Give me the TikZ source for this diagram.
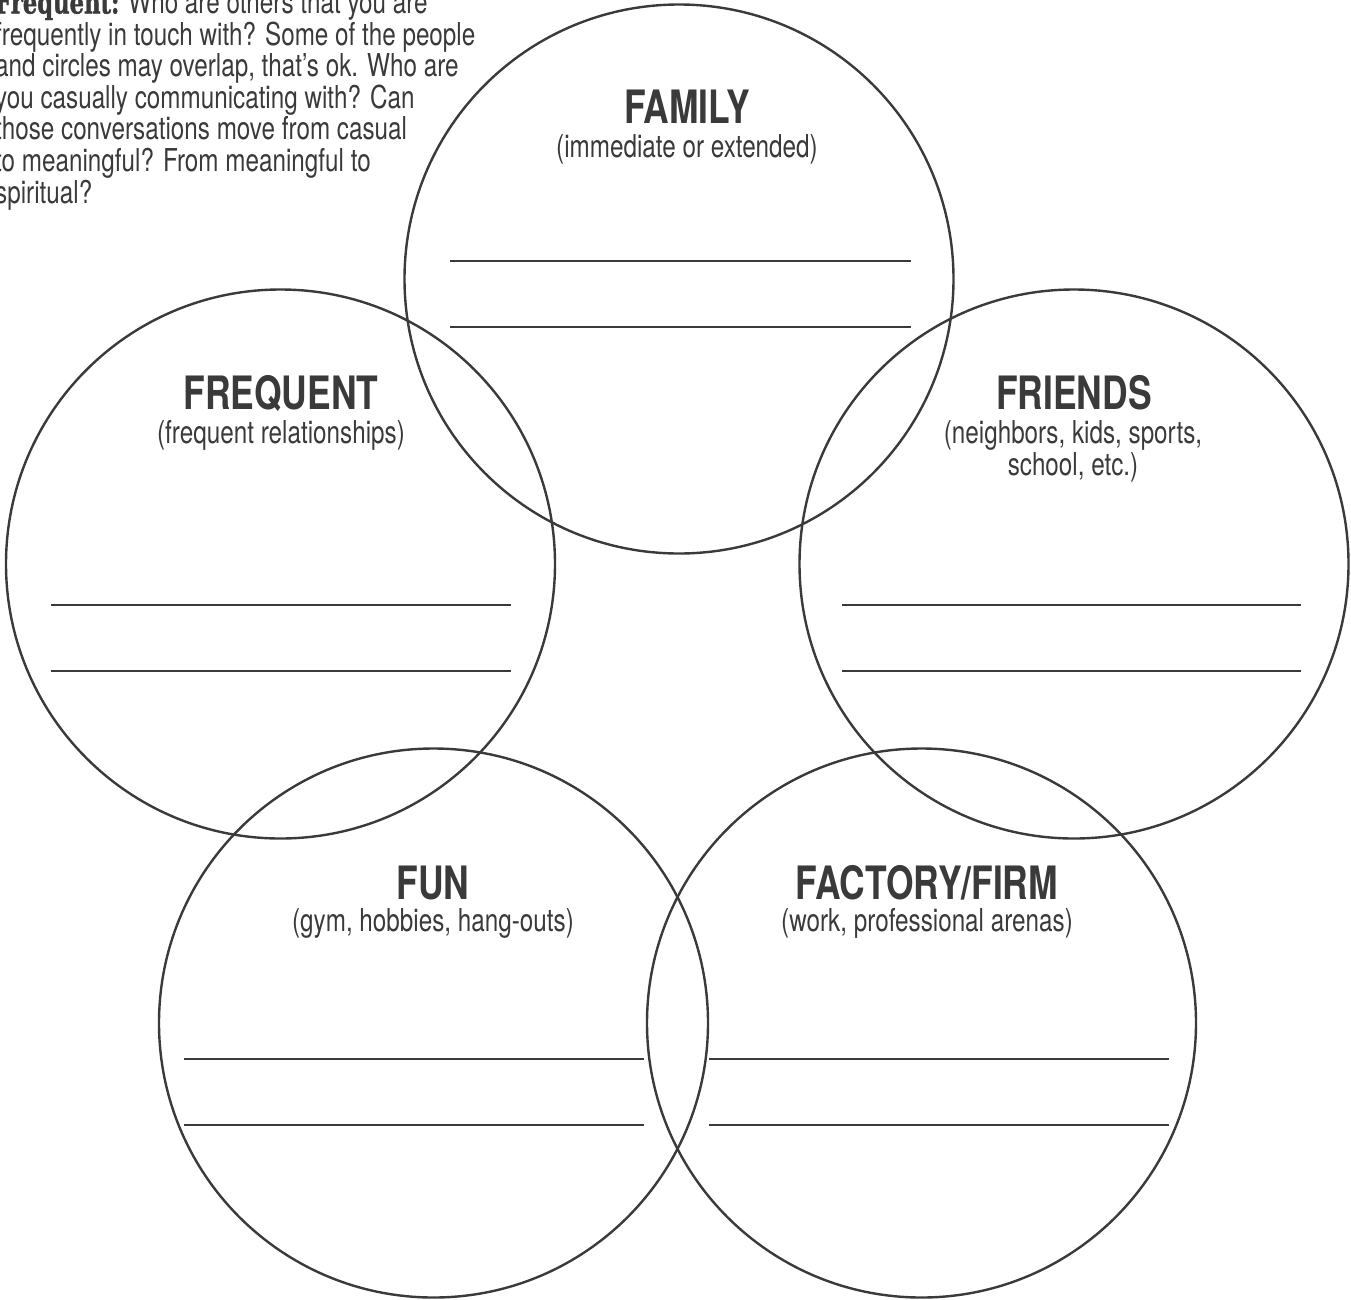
\documentclass[tikz,border=0pt]{standalone}
\usepackage{fontspec}
\setmainfont{TeX Gyre Heros}[FakeStretch=0.77]
\newfontfamily\slabfont{DejaVu Serif}[FakeStretch=0.72, FakeBold=1.2]
\definecolor{ink}{HTML}{3A3A3A}

\begin{document}
\begin{tikzpicture}[x=1pt, y=-1pt,
    ring/.style={circle, draw=ink, line width=2.4pt, minimum size=549pt, inner sep=0pt},
    heading/.style={anchor=base, text=ink, inner sep=0pt, font=\fontsize{46}{46}\selectfont\bfseries},
    note/.style={anchor=base, text=ink, inner sep=0pt, align=center, font=\fontsize{31.5}{32}\selectfont},
    blank/.style={draw=ink, line width=2.4pt}]
	\useasboundingbox (0,0) rectangle (1351,1299);
	% intro text, cut at the left edge (base = last line)
	\node[anchor=base west, inner sep=0pt, align=left, text=ink, font=\fontsize{31.5}{31.6}\selectfont] (intro) at (-5,203.1)
		{{\slabfont\bfseries Frequent:} Who are others that you are\\
		frequently in touch with? Some of the people\\
		and circles may overlap, that’s ok. Who are\\
		you casually communicating with? Can\\
		those conversations move from casual\\
		to meaningful? From meaningful to\\
		spiritual?};
	% the five circles
	\node[ring] (family) at (679,279) {};
	\node[ring] (frequent) at (280.5,564) {};
	\node[ring] (friends) at (1074,564) {};
	\node[ring] (fun) at (433.5,1023) {};
	\node[ring] (factory) at (921.5,1023) {};
	% titles
	\node[heading] (familyT) at (687,123) {FAMILY};
	\node[note] (familyS) at (687,157) {(immediate or extended)};
	\node[heading] (frequentT) at (281,409) {FREQUENT};
	\node[note] (frequentS) at (281,443) {(frequent relationships)};
	\node[heading] (friendsT) at (1074,409) {FRIENDS};
	\node[note] (friendsS) at (1073,475) {(neighbors, kids, sports,\\ school, etc.)};
	\node[heading] (funT) at (433,899) {FUN};
	\node[note] (funS) at (433,931) {(gym, hobbies, hang-outs)};
	\node[heading] (factoryT) at (927,899) {FACTORY/FIRM};
	\node[note] (factoryS) at (927,931) {(work, professional arenas)};
	% lines to write on
	\foreach \y in {261,327} \draw[blank] (450,\y) -- (911,\y);
	\foreach \y in {605,671} {
		\draw[blank] (51,\y) -- (511,\y);
		\draw[blank] (842,\y) -- (1301,\y);
	}
	\foreach \y in {1059,1125} {
		\draw[blank] (184,\y) -- (644,\y);
		\draw[blank] (709,\y) -- (1169,\y);
	}
\end{tikzpicture}
\end{document}
